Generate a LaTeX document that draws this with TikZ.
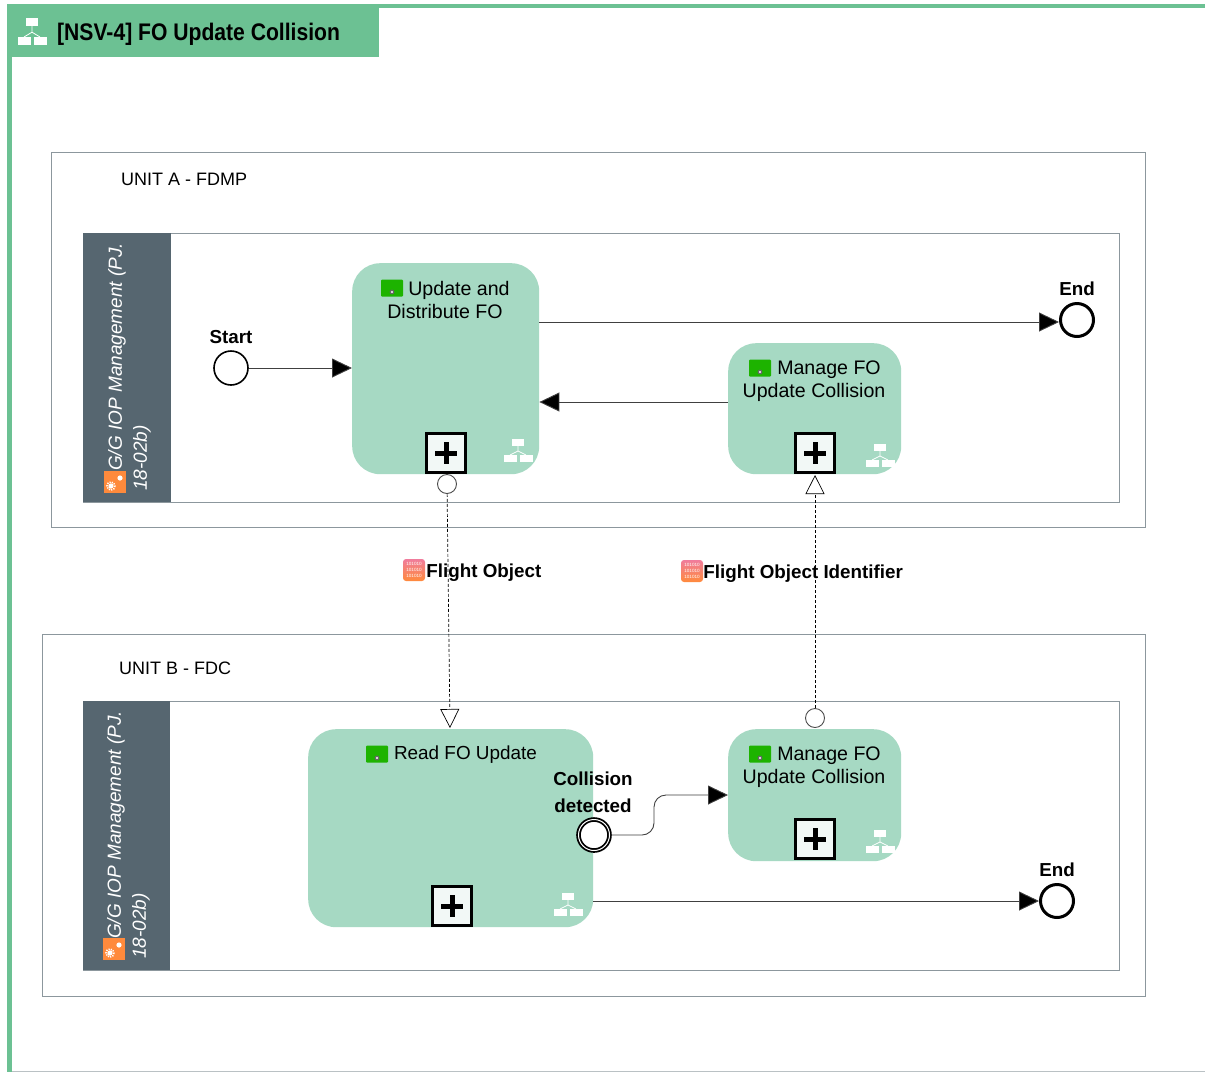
\documentclass[tikz,border=0pt]{standalone}
\usepackage{fontspec}
\setmainfont{Liberation Sans}
\newfontfamily\titlefont[FakeStretch=0.88]{Liberation Sans}
\usetikzlibrary{shapes, arrows.meta, positioning}

\definecolor{headgreen}{HTML}{6CC193}
\definecolor{taskgreen}{HTML}{A6D9C3}
\definecolor{lanegray}{HTML}{566670}
\definecolor{boxgray}{HTML}{8C979D}
\definecolor{plusfill}{HTML}{F2F8F6}
\definecolor{icongreen}{HTML}{1DB300}
\definecolor{iconorange}{HTML}{FF8A3C}
\definecolor{iconpink}{HTML}{F07C9C}

\tikzset{
    treeicon/.pic={
        \fill[white] (-6,-16) rectangle (6,-9);
        \fill[white] (-14,0) rectangle (-1,7);
        \fill[white] (2,0) rectangle (15,7);
        \draw[white, line width=0.8pt] (0,-9) -- (0,-4) -- (-8,0) (0,-4) -- (8,0);
    },
    gearicon/.pic={
        \fill[iconorange] (-11,-11) rectangle (11,11);
        \draw[white, line width=1.6pt, dash pattern=on 1.2pt off 1.2pt] (-4,4) circle (4);
        \fill[white] (-4,4) circle (2.6);
        \fill[white] (5,-4) circle (2.6);
    }
}

\begin{document}
\begin{tikzpicture}[x=1pt, y=-1pt, font=\fontsize{19.6}{23}\selectfont, align=center]

    % Define block styles
    \tikzstyle{unitbox} = [rectangle, draw=boxgray, line width=0.8pt, fill=white, anchor=north west, inner sep=0pt]
    \tikzstyle{lanehead} = [rectangle, fill=lanegray, anchor=north west, inner sep=0pt, minimum width=88, minimum height=269]
    \tikzstyle{task} = [rectangle, rounded corners=28, fill=taskgreen, anchor=north west, inner sep=0pt]
    \tikzstyle{plusbox} = [rectangle, draw=black, line width=2.6pt, fill=plusfill, minimum size=39, inner sep=0pt]
    \tikzstyle{event} = [circle, draw=black, line width=1.6pt, fill=white, minimum size=34, inner sep=0pt]
    \tikzstyle{endevent} = [circle, draw=black, line width=3pt, fill=white, minimum size=33, inner sep=0pt]
    \tikzstyle{flowdot} = [circle, draw=black!70, line width=0.9pt, fill=white, minimum size=19, inner sep=0pt]
    \tikzstyle{taskicon} = [rectangle, rounded corners=1, fill=icongreen, minimum width=22, minimum height=17, inner sep=0pt]
    \tikzstyle{dataicon} = [rectangle, rounded corners=3, top color=iconpink, bottom color=iconorange, draw=none, minimum width=22, minimum height=22, inner sep=0pt, text=white, font=\fontsize{4.6}{6.4}\selectfont]
    \tikzstyle{bold label} = [font=\fontsize{18.8}{27}\selectfont\bfseries, inner sep=0pt]
    \tikzstyle{unittext} = [anchor=west, inner sep=0pt, font=\fontsize{18}{23}\selectfont]
    \tikzstyle{lanetext} = [rotate=90, anchor=south west, align=left, text=white, inner sep=0pt, font=\fontsize{19}{25}\selectfont\itshape]
    \tikzstyle{arrow} = [black!75, line width=0.9pt, -{Triangle[length=20, width=19, fill=black]}]
    \tikzstyle{flow} = [black, line width=0.7pt, densely dashed, -{Triangle[open, length=19, width=19, fill=white]}]
    \useasboundingbox (0,0) rectangle (1205,1072);

    % Page frame and header
    \fill[headgreen] (10,4) rectangle (1205,8);
    \fill[headgreen] (7,4) rectangle (12,1072);
    \draw[boxgray!60] (12,1071) -- (1205,1071);
    \node (header) [rectangle, fill=headgreen, anchor=north west, inner sep=0pt, minimum width=369, minimum height=49] at (10,8) {};
    \pic[yscale=1.2] at (32,37) {treeicon};
    \node (title) [anchor=west, inner sep=0pt, font=\fontsize{24}{24}\titlefont\bfseries] at (57,34.5) {[NSV-4] FO Update Collision};

    % Place units and lanes
    \node (unita) [unitbox, minimum width=1094, minimum height=375] at (51,152) {};
    \node (unitb) [unitbox, minimum width=1103, minimum height=362] at (42,634) {};
    \node (unitatext) [unittext] at (121,179) {UNIT A - FDMP};
    \node (unitbtext) [unittext] at (119,668) {UNIT B - FDC};
    \node (lanea) [unitbox, minimum width=1036, minimum height=269] at (83,233) {};
    \node (laneb) [unitbox, minimum width=1036, minimum height=269] at (83,701) {};
    \node (headera) [lanehead] at (83,233) {};
    \node (headerb) [lanehead, minimum width=87] at (83,701) {};
    \pic at (115,482) {gearicon};
    \pic at (114,949) {gearicon};
    \node (lanetexta) [lanetext] at (151,491) {\hspace*{20pt}G/G IOP Management (PJ.\\18-02b)};
    \node (lanetextb) [lanetext] at (150,959) {\hspace*{20pt}G/G IOP Management (PJ.\\18-02b)};

    % Place tasks
    \node (update) [task, minimum width=187, minimum height=211] at (352,263) {};
    \node (managea) [task, minimum width=173, minimum height=131] at (728,343) {};
    \node (read) [task, minimum width=285, minimum height=198] at (308,729) {};
    \node (manageb) [task, minimum width=173, minimum height=132] at (728,729) {};

    % Task titles
    \node (updatetext) [inner sep=0pt] at (445,300) {\hspace*{28pt}Update and\\Distribute FO};
    \node (manageatext) [inner sep=0pt] at (814,381.5) {\hspace*{30pt}Manage FO\\Update Collision};
    \node (readtext) [inner sep=0pt, font=\fontsize{18.9}{23}\selectfont] at (451.5,755) {\hspace*{28pt}Read FO Update};
    \node (managebtext) [inner sep=0pt] at (814,767.5) {\hspace*{30pt}Manage FO\\Update Collision};
    \node (updateicon) [taskicon] at (392,288) {};
    \node (manageaicon) [taskicon] at (760,368) {};
    \node (readicon) [taskicon] at (377,754) {};
    \node (managebicon) [taskicon] at (760,754) {};
    \foreach \nm in {updateicon, manageaicon, readicon, managebicon} {
        \fill[black!60] (\nm.center) ++(0,4) circle (2.4);
        \fill[white] (\nm.center) ++(0,4) circle (1.1);
    }

    % Subprocess markers
    \node (updateplus) [plusbox] at (446,453) {};
    \node (manageaplus) [plusbox] at (815,453) {};
    \node (readplus) [plusbox] at (452,906) {};
    \node (managebplus) [plusbox] at (815,839) {};
    \foreach \nm in {updateplus, manageaplus, readplus, managebplus} {
        \fill (\nm.center) ++(-11,-2.5) rectangle ++(22,5);
        \fill (\nm.center) ++(-2.5,-11) rectangle ++(5,22);
    }
    \pic at (518,455) {treeicon};
    \pic at (880,460) {treeicon};
    \pic at (568,909) {treeicon};
    \pic at (880,846) {treeicon};

    % Place events
    \node (start) [event] at (231,368) {};
    \node (enda) [endevent] at (1077,320) {};
    \node (endb) [endevent] at (1057,901) {};
    \node (collision) [event, minimum size=31, line width=1.8pt, double=white, double distance=1pt] at (594,835) {};
    \node (starttext) [bold label, above=6pt of start] {Start};
    \node (endatext) [bold label, above=6pt of enda] {End};
    \node (endbtext) [bold label, above=6pt of endb] {End};
    \node (collisiontext) [bold label] at (593,792) {Collision\\detected};

    % Message flow ends
    \node (flowa) [flowdot] at (447,484) {};
    \node (flowb) [flowdot] at (815,718) {};
    \coordinate (flowain) at (450,728);
    \coordinate (flowbin) at (815,475);

    % Draw arrows
    \draw [arrow] (start) -- (update.west |- start);
    \draw [arrow] (update.east |- enda.west) ++(0,2) coordinate (updateout) -- (enda.west |- updateout);
    \draw [arrow] (managea.west |- 0,402) -- (update.east |- 0,402);
    \draw [arrow, rounded corners=12] (collision) -- (654,835) -- (654,795) -- (manageb.west |- 0,795);
    \draw [arrow] (read.east |- endb) -- (endb);
    \draw [flow] (flowa) -- (flowain);
    \draw [flow] (flowb) -- (flowbin);

    % Data labels
    \node (dataa) [dataicon] at (414,570) {101010\\101010\\101010};
    \node (datab) [dataicon] at (692,571) {101010\\101010\\101010};
    \node (dataatext) [bold label, right=1pt of dataa, yshift=-2.5pt] {Flight Object};
    \node (databtext) [bold label, right=0pt of datab, yshift=-2.5pt] {Flight Object Identifier};

\end{tikzpicture}
\end{document}
